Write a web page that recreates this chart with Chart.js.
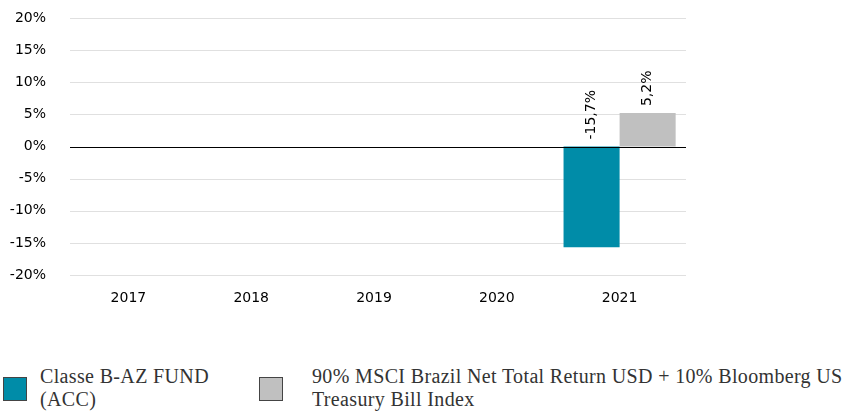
<!DOCTYPE html>
<html>
<head>
<meta charset="utf-8">
<script src="https://cdn.jsdelivr.net/npm/chart.js@4/dist/chart.umd.min.js"></script>
<style>
  html, body { margin: 0; padding: 0; background: #fff; }
  #wrap { position: relative; width: 846px; height: 415px; overflow: hidden; }
  #chartBox { position: absolute; left: 0; top: 0; width: 846px; height: 320px; }
  .leg { position: absolute; top: 365px; font-family: "Liberation Serif", "DejaVu Serif", serif; font-size: 20px; letter-spacing: 0.35px; line-height: 23px; color: #333; }
  .box { position: absolute; top: 377px; width: 22px; height: 22px; border: 1px solid #444; }
</style>
</head>
<body>
<div id="wrap">
  <div id="chartBox"><canvas id="c"></canvas></div>
  <div class="box" style="left:3px;background:#008CA8"></div>
  <div class="leg" style="left:40px">Classe B-AZ FUND<br>(ACC)</div>
  <div class="box" style="left:259px;background:#C0C0C0"></div>
  <div class="leg" style="left:312px">90% MSCI Brazil Net Total Return USD + 10% Bloomberg US<br>Treasury Bill Index</div>
</div>
<script>
const categories = ['2017', '2018', '2019', '2020', '2021'];
const fundName = 'Classe B-AZ FUND (ACC)';
const fundValues = [null, null, null, null, -15.7];
const benchName = '90% MSCI Brazil Net Total Return USD + 10% Bloomberg US Treasury Bill Index';
const benchValues = [null, null, null, null, 5.2];
const yTicks = [-20, -15, -10, -5, 0, 5, 10, 15, 20];

const fmt = v => v.toFixed(1).replace('.', ',') + '%';

const GRID_LEFT_EXTRA = 3;
const GRID_RIGHT_EXTRA = 5;

function drawHLine(ctx, chart, y, color) {
  ctx.strokeStyle = color;
  ctx.beginPath();
  ctx.moveTo(chart.chartArea.left + GRID_LEFT_EXTRA, y);
  ctx.lineTo(chart.chartArea.right + GRID_RIGHT_EXTRA, y);
  ctx.stroke();
}

const gridPlugin = {
  id: 'customGrid',
  beforeDatasetsDraw(chart) {
    const ctx = chart.ctx;
    const ys = chart.scales.y;
    ctx.save();
    ctx.lineWidth = 1;
    yTicks.forEach(v => {
      const y = Math.round(ys.getPixelForValue(v)) + 0.5;
      drawHLine(ctx, chart, y, v === 0 ? '#000' : '#E0E0E0');
    });
    ctx.restore();
  },
  afterDatasetsDraw(chart) {
    const ctx = chart.ctx;
    const y = Math.round(chart.scales.y.getPixelForValue(0)) + 0.5;
    ctx.save();
    ctx.lineWidth = 1;
    drawHLine(ctx, chart, y, '#000');
    ctx.restore();
  }
};

const labelPlugin = {
  id: 'barLabels',
  afterDatasetsDraw(chart) {
    const ctx = chart.ctx;
    ctx.save();
    ctx.font = '14px "DejaVu Sans", sans-serif';
    ctx.fillStyle = '#000';
    ctx.textAlign = 'left';
    ctx.textBaseline = 'middle';
    chart.data.datasets.forEach((ds, i) => {
      const meta = chart.getDatasetMeta(i);
      meta.data.forEach((el, j) => {
        const v = ds.data[j];
        if (v === null || v === undefined) return;
        const top = Math.min(el.y, el.base);
        ctx.save();
        ctx.translate(el.x, top - 7);
        ctx.rotate(-Math.PI / 2);
        ctx.fillText(fmt(v), 0, 0);
        ctx.restore();
      });
    });
    ctx.restore();
  }
};

new Chart(document.getElementById('c'), {
  type: 'bar',
  data: {
    labels: categories,
    datasets: [
      { label: fundName, data: fundValues, backgroundColor: '#008CA8', borderWidth: 0 },
      { label: benchName, data: benchValues, backgroundColor: '#C0C0C0', borderWidth: 0 }
    ]
  },
  options: {
    responsive: true,
    maintainAspectRatio: false,
    animation: false,
    events: [],
    layout: { padding: { top: 18, right: 165, bottom: 0, left: 0 } },
    datasets: { bar: { categoryPercentage: 0.913, barPercentage: 1.0 } },
    plugins: { legend: { display: false }, tooltip: { enabled: false } },
    scales: {
      x: {
        grid: { display: false, drawTicks: false },
        border: { display: false },
        ticks: { color: '#000', font: { family: '"DejaVu Sans", sans-serif', size: 14 }, padding: 15, maxRotation: 0 },
        afterFit(scale) { scale.height = 45; scale.paddingLeft = 0; scale.paddingRight = 0; }
      },
      y: {
        min: -20, max: 20,
        afterBuildTicks(scale) { scale.ticks = yTicks.map(v => ({ value: v })); },
        grid: { display: false, drawTicks: false },
        border: { display: false },
        ticks: {
          color: '#000',
          font: { family: '"DejaVu Sans", sans-serif', size: 14 },
          padding: 21,
          callback: v => v + '%'
        },
        afterFit(scale) { scale.width = 67; scale.paddingTop = 0; scale.paddingBottom = 0; }
      }
    }
  },
  plugins: [gridPlugin, labelPlugin]
});
</script>
</body>
</html>
